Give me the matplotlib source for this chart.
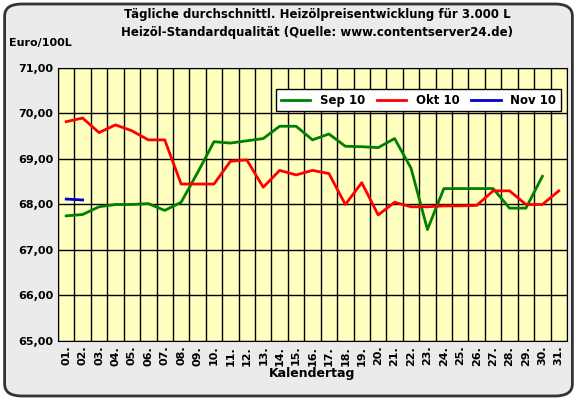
import numpy as np
import matplotlib.pyplot as plt
from matplotlib.patches import FancyBboxPatch

days = [f"{d:02d}." for d in range(1, 32)]
sep10 = [67.75, 67.78, 67.95, 68.0, 68.0, 68.02, 67.87, 68.05, 68.7, 69.38, 69.35, 69.4, 69.45, 69.72, 69.72,
         69.42, 69.55, 69.28, 69.27, 69.25, 69.45, 68.8, 67.45, 68.35, 68.35, 68.35, 68.35, 67.92, 67.92, 68.62]
okt10 = [69.82, 69.9, 69.58, 69.75, 69.62, 69.42, 69.42, 68.45, 68.45, 68.45, 68.95, 68.98, 68.38, 68.75, 68.65,
         68.75, 68.68, 68.0, 68.48, 67.77, 68.05, 67.95, 67.95, 67.97, 67.97, 67.98, 68.3, 68.3, 68.0, 68.0, 68.3]
nov10 = [68.12, 68.1]

fig = plt.figure(figsize=(5.77, 4.0), dpi=100)
fig.patch.set_facecolor('white')
bg = FancyBboxPatch((0.008, 0.01), 0.984, 0.98, boxstyle="round,pad=0,rounding_size=0.03",
                    transform=fig.transFigure, facecolor='#EBEBEB', edgecolor='#333333', lw=2, zorder=-10)
fig.patches.append(bg)
ax = fig.add_axes([58/577, 1-341/400, (567-58)/577, (341-68)/400])
ax.set_zorder(5)
ax.set_facecolor('#FFFFC0')

ax.plot(range(1, 31), sep10, color='#008000', lw=2, label='Sep 10')
ax.plot(range(1, 32), okt10, color='#FF0000', lw=2, label='Okt 10')
ax.plot(range(1, 3), nov10, color='#0000CC', lw=2, label='Nov 10')

ax.set_xlim(0.5, 31.5)
ax.set_ylim(65, 71)
ax.set_xticks(range(1, 32))
ax.set_xticklabels(days, rotation=90, fontsize=8, fontweight='bold')
ax.set_xticks(np.arange(0.5, 32, 1), minor=True)
ax.set_yticks(range(65, 72))
ax.set_yticklabels([f"{v},00" for v in range(65, 72)], fontsize=8, fontweight='bold')
ax.grid(True, which='minor', axis='x', color='black', lw=1)
ax.grid(True, which='major', axis='y', color='black', lw=1)
ax.set_axisbelow(True)
ax.tick_params(which='both', length=0)
ax.set_xlabel('Kalendertag', fontsize=9, fontweight='bold', labelpad=1)

fig.text(0.55, 0.955, 'Tägliche durchschnittl. Heizölpreisentwicklung für 3.000 L', ha='center',
         fontsize=8.5, fontweight='bold')
fig.text(0.55, 0.91, 'Heizöl-Standardqualität (Quelle: www.contentserver24.de)', ha='center',
         fontsize=8.5, fontweight='bold')
fig.text(0.015, 0.885, 'Euro/100L', fontsize=8, fontweight='bold')

leg = ax.legend(loc='upper right', ncol=3, prop={'weight': 'bold', 'size': 8.5},
                fancybox=False, edgecolor='black', framealpha=1, bbox_to_anchor=(1.0, 0.945),
                handlelength=2.5, columnspacing=1.0)

fig.savefig('out.png', dpi=100)
